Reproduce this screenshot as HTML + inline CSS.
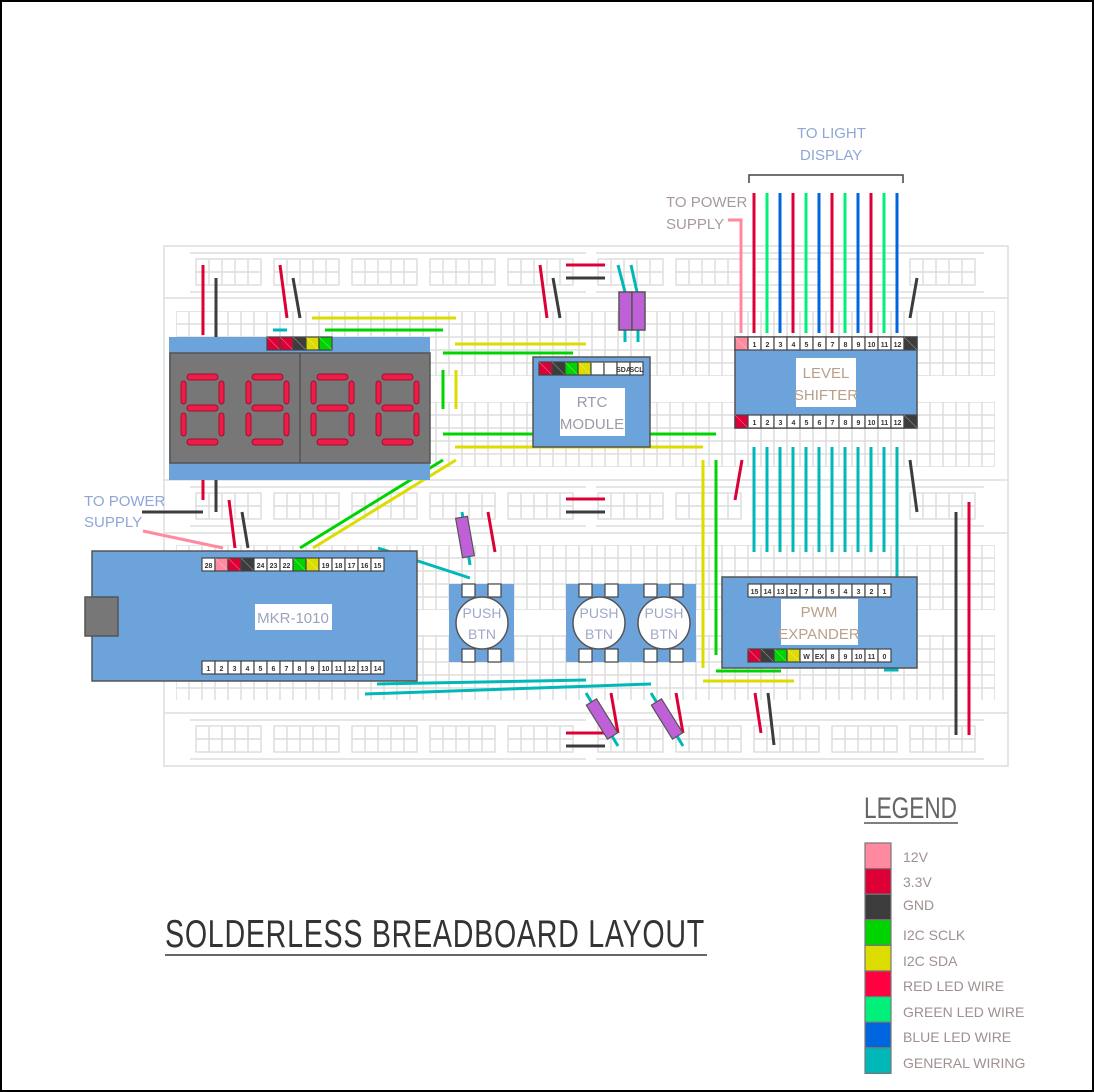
<!DOCTYPE html>
<html><head><meta charset="utf-8"><style>
html,body{margin:0;padding:0;background:#fff}
svg{display:block}
text{font-family:"Liberation Sans",sans-serif}
</style></head><body>
<svg id="s" width="1094" height="1092" viewBox="0 0 1094 1092" xmlns="http://www.w3.org/2000/svg">
<defs>
<pattern id="g" x="176" y="311" width="13" height="13" patternUnits="userSpaceOnUse"><rect x="0" y="0" width="13" height="13" fill="none" stroke="#dcdcdc" stroke-width="1.4"/></pattern>
</defs>
<rect x="1" y="1" width="1092" height="1090" fill="#fff" stroke="#000" stroke-width="2"/>
<rect x="164" y="246" width="844" height="520" fill="#fff" stroke="#ddd" stroke-width="1.5"/>
<g id="bb"></g>
<g id="w"></g>
<g id="c"></g>
<g id="t" font-size="15" fill="#9aa4bc" font-weight="300">
<text x="797" y="138" fill="#8fa6d6">TO LIGHT</text>
<text x="800" y="160" fill="#8fa6d6">DISPLAY</text>
<text x="666" y="207" fill="#a89a9a">TO POWER</text>
<text x="666" y="229" fill="#a89a9a">SUPPLY</text>
<text x="84" y="506" fill="#8fa6d6">TO POWER</text>
<text x="84" y="527" fill="#8fa6d6">SUPPLY</text>
</g>
<text x="165" y="947" font-size="39" fill="#333" letter-spacing="1" textLength="540" lengthAdjust="spacingAndGlyphs" font-weight="300">SOLDERLESS BREADBOARD LAYOUT</text>
<line x1="165" y1="955" x2="707" y2="955" stroke="#333" stroke-width="1.5"/>
<text x="864" y="818" font-size="30" fill="#666" textLength="93" lengthAdjust="spacingAndGlyphs">LEGEND</text>
<line x1="864" y1="823" x2="958" y2="823" stroke="#555" stroke-width="1.5"/>
<g font-size="14" fill="#a09090">
<text x="903" y="862">12V</text>
<text x="903" y="887">3.3V</text>
<text x="903" y="910">GND</text>
<text x="903" y="940">I2C SCLK</text>
<text x="903" y="966">I2C SDA</text>
<text x="903" y="991">RED LED WIRE</text>
<text x="903" y="1017">GREEN LED WIRE</text>
<text x="903" y="1042">BLUE LED WIRE</text>
<text x="903" y="1068">GENERAL WIRING</text>
</g>
</svg>
<script>
const NS="http://www.w3.org/2000/svg";
function el(p,tag,a,txt){const e=document.createElementNS(NS,tag);for(const k in a)e.setAttribute(k,a[k]);if(txt!==undefined)e.textContent=txt;document.getElementById(p).appendChild(e);return e;}
const C={p:"#ff8aa0",r:"#dc0036",d:"#3c3c3c",g:"#00d400",y:"#dcdc00",R:"#ff0040",G:"#00f07a",B:"#0066dd",c:"#00b8b8",w:"#ffffff"};
const bb="bb";
[[259],[493],[726]].forEach(([y])=>{
 [196,274,352,430,508,598,676,754,832,910].forEach(x=>el(bb,"rect",{x:x,y:y,width:65,height:26,fill:"none",stroke:"#dcdcdc","stroke-width":1.4}));
 [196,274,352,430,508,598,676,754,832,910].forEach(x=>{for(let i=1;i<5;i++)el(bb,"line",{x1:x+13*i,y1:y,x2:x+13*i,y2:y+26,stroke:"#dcdcdc","stroke-width":1.4});el(bb,"line",{x1:x,y1:y+13,x2:x+65,y2:y+13,stroke:"#dcdcdc","stroke-width":1.4});});
 [[y-6],[y+33]].forEach(([yy])=>{el(bb,"line",{x1:190,y1:yy,x2:586,y2:yy,stroke:"#ddd","stroke-width":1.4});el(bb,"line",{x1:596,y1:yy,x2:984,y2:yy,stroke:"#ddd","stroke-width":1.4});});
});
el(bb,"line",{x1:164,y1:298,x2:1008,y2:298,stroke:"#ddd","stroke-width":1.5});
el(bb,"line",{x1:164,y1:480,x2:1008,y2:480,stroke:"#ddd","stroke-width":1.5});
el(bb,"line",{x1:164,y1:533,x2:1008,y2:533,stroke:"#ddd","stroke-width":1.5});
el(bb,"line",{x1:164,y1:713,x2:1008,y2:713,stroke:"#ddd","stroke-width":1.5});
[[311,65],[402,65],[545,65],[635,65]].forEach(([y,h])=>el(bb,"rect",{x:176,y:y,width:819,height:h,fill:"url(#g)"}));
function W(x1,y1,x2,y2,col,sw){el("w","line",{x1,y1,x2,y2,stroke:C[col]||col,"stroke-width":sw||3});}
W(203,265,203,335,"r");W(216,278,216,340,"d");
W(280,265,287,318,"r");W(293,278,300,318,"d");W(273,330,287,330,"c");
W(312,318,456,318,"y");W(325,330,443,330,"g");
W(455,344,586,344,"y");W(443,353,573,353,"g");
W(443,370,443,409,"g");W(456,370,456,409,"y");
W(443,434,716,434,"g");W(455,447,703,447,"y");
W(443,460,300,548,"g");W(456,460,313,548,"y");
W(540,265,547,318,"r");W(553,278,560,318,"d");
W(566,265,605,265,"r");W(566,278,605,278,"d");
W(618,265,625,292,"c");W(631,265,637,292,"c");W(625,330,625,342,"c");W(638,330,638,342,"c");
el("w","polyline",{points:"728,220 741,220 741,333",fill:"none",stroke:C.p,"stroke-width":3});
const lc="rGBrGBrGBrGB";
for(let i=0;i<12;i++)W(754+13*i,193,754+13*i,333,lc[i]);
el("w","polyline",{points:"749,183 749,175 903,175 903,183",fill:"none",stroke:"#444","stroke-width":1.5});
W(917,278,910,318,"d");
for(let i=0;i<11;i++)W(754+13*i,447,754+13*i,552,"c");
el("w","polyline",{points:"897,447 897,670 884,670",fill:"none",stroke:C.c,"stroke-width":3});
W(742,460,735,500,"r");W(910,460,917,512,"d");
W(956,512,956,735,"d");W(969,502,969,735,"r");
W(142,512,203,512,"d");W(203,480,203,500,"r");W(216,480,216,512,"d");
W(229,500,235,548,"r");W(242,512,248,548,"d");W(143,531,223,548,"p");
W(566,499,605,499,"r");W(566,512,605,512,"d");
W(378,548,470,578,"c");W(462,512,470,565,"c");W(488,512,495,552,"r");
W(703,460,703,668,"y");W(716,460,716,655,"g");W(716,671,781,671,"g");W(703,681,794,681,"y");
W(377,684,586,680,"c");W(365,694,651,684,"c");
W(755,693,761,733,"r");W(768,693,774,745,"d");
W(586,693,618,746,"c");W(651,693,683,746,"c");
W(611,693,618,733,"r");W(676,693,683,733,"r");
W(566,733,605,733,"r");W(566,746,605,746,"d");
function R(x,y,w,h,f,s,sw){return el("c","rect",{x,y,width:w,height:h,fill:f,stroke:s||"#555","stroke-width":sw||1.5});}
function pins(x,y,arr){arr.forEach((v,i)=>{const cc=C[v];R(x+13*i,y,13,13,cc||"#fff","#444",1.2);if(!cc)el("c","text",{x:x+13*i+6.5,y:y+10,"font-size":7,"text-anchor":"middle","font-weight":"bold",fill:"#333"},v);else el("c","line",{x1:x+13*i,y1:y,x2:x+13*i+13,y2:y+13,stroke:"rgba(255,255,255,.35)","stroke-width":.8});});}
const BL="#6ca3db";
R(169,337,261,143,BL,"none",0);
R(170,353,260,110,"#777","#555");
el("c","line",{x1:300,y1:353,x2:300,y2:463,stroke:"#555","stroke-width":1.5});
pins(267,337,["r","r","d","y","g"]);
[187,252,317,382].forEach(x=>{
 const seg=(a,b,c,d)=>el("c","rect",{x:a,y:b,width:c,height:d,rx:3,fill:"#ee1c48",stroke:"#a01030","stroke-width":1});
 seg(x,374,31,6);seg(x,405,31,6);seg(x,439,31,6);
 seg(x-6,381,5,23);seg(x+32,381,5,23);seg(x-6,413,5,23);seg(x+32,413,5,23);
});
R(533,357,117,90,BL);
pins(539,362,["r","d","g","y","w","w","SDA","SCL"]);
R(560,388,65,48,"#fff","none",0);
el("c","text",{x:592,y:407,"font-size":15,"text-anchor":"middle",fill:"#9a9aa8"},"RTC");
el("c","text",{x:592,y:429,"font-size":15,"text-anchor":"middle",fill:"#9a9aa8"},"MODULE");
R(619,292,13,38,"#c060d8");R(632,292,13,38,"#c060d8");
R(735,337,182,91,BL);
pins(735,337,["p","1","2","3","4","5","6","7","8","9","10","11","12","d"]);
pins(735,415,["r","1","2","3","4","5","6","7","8","9","10","11","12","d"]);
R(796,358,60,49,"#fff","none",0);
el("c","text",{x:826,y:378,"font-size":15,"text-anchor":"middle",fill:"#b8a08a"},"LEVEL");
el("c","text",{x:826,y:400,"font-size":15,"text-anchor":"middle",fill:"#b8a08a"},"SHIFTER");
R(722,577,195,91,BL);
pins(748,584,["15","14","13","12","7","6","5","4","3","2","1"]);
pins(748,649,["r","d","g","y","W","EX","8","9","10","11","0"]);
R(781,599,77,46,"#fff","none",0);
el("c","text",{x:819,y:617,"font-size":15,"text-anchor":"middle",fill:"#b8a08a"},"PWM");
el("c","text",{x:819,y:639,"font-size":15,"text-anchor":"middle",fill:"#b8a08a"},"EXPANDER");
R(92,551,325,130,BL);
R(85,597,33,39,"#777","#555");
pins(202,558,["28","p","r","d","24","23","22","g","y","19","18","17","16","15"]);
pins(202,661,["1","2","3","4","5","6","7","8","9","10","11","12","13","14"]);
R(255,604,77,26,"#fff","none",0);
el("c","text",{x:293,y:623,"font-size":15,"text-anchor":"middle",fill:"#9aa4bc"},"MKR-1010");
[449,566,631].forEach(x=>{
 R(x,584,65,78,BL,"none",0);
 R(x+13,584,13,13,"#fff","#444",1.2);R(x+39,584,13,13,"#fff","#444",1.2);
 R(x+13,649,13,13,"#fff","#444",1.2);R(x+39,649,13,13,"#fff","#444",1.2);
 el("c","circle",{cx:x+33,cy:623,r:26,fill:"#fff",stroke:"#555","stroke-width":1.5});
 el("c","text",{x:x+33,y:618,"font-size":14,"text-anchor":"middle",fill:"#a0a8c8"},"PUSH");
 el("c","text",{x:x+33,y:639,"font-size":14,"text-anchor":"middle",fill:"#a0a8c8"},"BTN");
});
function RD(cx,cy,ang){const g=el("c","g",{transform:`translate(${cx},${cy}) rotate(${ang})`});const r=document.createElementNS(NS,"rect");[["x",-6],["y",-20],["width",12],["height",40],["fill","#c060d8"],["stroke","#555"],["stroke-width",1.2]].forEach(([k,v])=>r.setAttribute(k,v));g.appendChild(r);}
RD(465,537,-10);RD(602,719,-32);RD(667,719,-32);
["p","r","d","g","y","R","G","B","c"].forEach((k,i)=>{R(865,843+25.6*i,26,25.6,C[k],"#777",1.2);});
</script>
</body></html>
